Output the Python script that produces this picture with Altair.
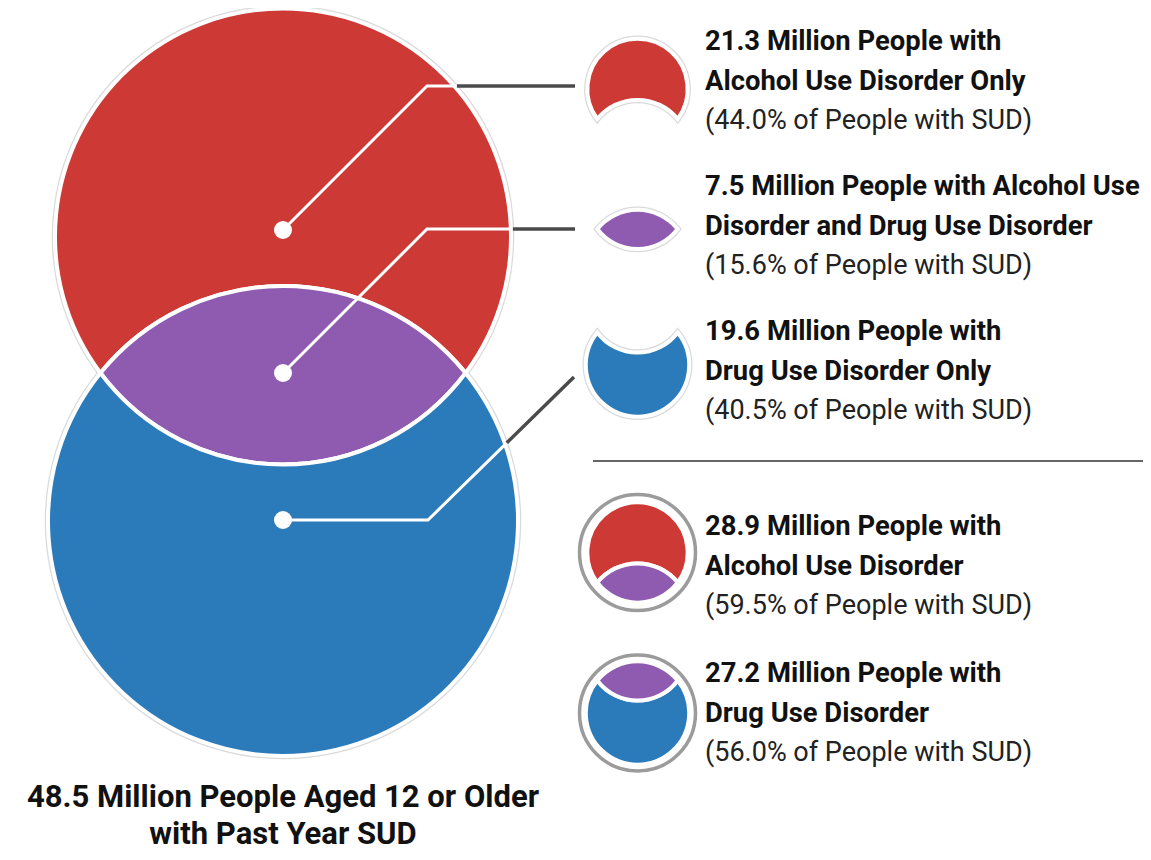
import math
import altair as alt
import pandas as pd

# ---------------- data ----------------
total_millions = 48.5
total_lines = ["Million People Aged 12 or Older", "with Past Year SUD"]
group_millions = [21.3, 7.5, 19.6, 28.9, 27.2]
group_pcts = [44.0, 15.6, 40.5, 59.5, 56.0]
group_head1 = ["Million People with", "Million People with Alcohol Use",
               "Million People with", "Million People with", "Million People with"]
group_head2 = ["Alcohol Use Disorder Only", "Disorder and Drug Use Disorder",
               "Drug Use Disorder Only", "Alcohol Use Disorder", "Drug Use Disorder"]

# ---------------- style / layout ----------------
RED, PURPLE, BLUE = "#CD3935", "#8E5BB1", "#2B7BBB"
FONT = "Roboto"
W, H = 1135, 844
xs = alt.Scale(domain=[8, 8 + W], range=[0, W], nice=False, zero=False)
ys = alt.Scale(domain=[8, 8 + H], range=[0, H], nice=False, zero=False)

# venn geometry (pixels): red circle radius, blue circle radius, centre distance
R1, R2, D = 228.0, 235.0, 284.5
A = (D * D + R1 * R1 - R2 * R2) / (2 * D)
HH = math.sqrt(R1 * R1 - A * A)


def f(v):
    return f"{v:.2f}"


def region_path(kind, k):
    r1, r2, a, h = R1 * k, R2 * k, A * k, HH * k
    if kind == "red":
        return f"M{f(-h)},{f(a)}A{f(r1)},{f(r1)} 0 1 1 {f(h)},{f(a)}A{f(r2)},{f(r2)} 0 0 0 {f(-h)},{f(a)}Z"
    if kind == "lens":
        return f"M{f(-h)},{f(a)}A{f(r2)},{f(r2)} 0 0 1 {f(h)},{f(a)}A{f(r1)},{f(r1)} 0 0 1 {f(-h)},{f(a)}Z"
    return f"M{f(-h)},{f(a)}A{f(r2)},{f(r2)} 0 1 0 {f(h)},{f(a)}A{f(r1)},{f(r1)} 0 0 1 {f(-h)},{f(a)}Z"


COLORS = {"red": RED, "lens": PURPLE, "blue": BLUE}
K_ICON = 0.22
ICON_X = 637.5
# (x of red-circle centre, y of red-circle centre, scale, regions, halo?)
venns = [
    (283.0, 236.5, 1.0, ["red", "lens", "blue"], True),
    (ICON_X, 89.0, K_ICON, ["red"], True),
    (ICON_X, 229.0 - A * K_ICON, K_ICON, ["lens"], True),
    (ICON_X, 365.0 - D * K_ICON, K_ICON, ["blue"], True),
    (ICON_X, 552.5, K_ICON, ["red", "lens"], False),
    (ICON_X, 713.0 - D * K_ICON, K_ICON, ["blue", "lens"], False),
]
rows = []
for cx, cy, k, regs, halo in venns:
    for r in regs:
        rows.append({"x": cx, "y": cy, "path": region_path(r, k), "fill": COLORS[r], "halo": halo})
shapes = pd.DataFrame(rows)

rings = pd.DataFrame({"x": [ICON_X, ICON_X], "y": [552.5, 713.0]})
RING_R = 58.0

# connectors: dot -> knee -> end, leaving circle (centre, radius)
connectors = [
    ((283, 230), (427, 86), (575, 86), (283, 236.5), R1 + 2),
    ((283, 373), (427, 229), (575, 229), (283, 236.5), R1 + 2),
    ((283, 520), (428, 520), (574, 377), (283, 521.0), R2 + 2),
]


def exit_point(p, q, c, r):
    dx, dy = q[0] - p[0], q[1] - p[1]
    fx, fy = p[0] - c[0], p[1] - c[1]
    a = dx * dx + dy * dy
    b = 2 * (fx * dx + fy * dy)
    cc = fx * fx + fy * fy - r * r
    t = (-b + math.sqrt(b * b - 4 * a * cc)) / (2 * a)
    return (p[0] + t * dx, p[1] + t * dy)


white_rows, gray_rows, dot_rows = [], [], []
for i, (dot, knee, end, c, r) in enumerate(connectors):
    ex = exit_point(knee, end, c, r)
    for j, pt in enumerate([dot, knee, ex]):
        white_rows.append({"seg": i, "i": j, "x": pt[0], "y": pt[1]})
    for j, pt in enumerate([ex, end]):
        gray_rows.append({"seg": i, "i": j, "x": pt[0], "y": pt[1]})
    dot_rows.append({"x": dot[0], "y": dot[1]})
white_df = pd.DataFrame(white_rows)
gray_df = pd.DataFrame(gray_rows)
dots_df = pd.DataFrame(dot_rows)

sep_df = pd.DataFrame({"x": [593], "x2": [1143], "y": [461]})

# labels
TEXT_X = 705
block_base = [50, 195, 340, 535, 682]
LINE = 39.5
bold_rows, reg_rows = [], []
for m, h1, h2, p, b in zip(group_millions, group_head1, group_head2, group_pcts, block_base):
    bold_rows.append({"x": TEXT_X, "y": b, "t": f"{m} {h1}"})
    bold_rows.append({"x": TEXT_X, "y": b + LINE, "t": h2})
    reg_rows.append({"x": TEXT_X, "y": b + 2 * LINE, "t": f"({p:.1f}% of People with SUD)"})
bold_df = pd.DataFrame(bold_rows)
reg_df = pd.DataFrame(reg_rows)
title_df = pd.DataFrame({"x": [283, 283], "y": [807, 844],
                         "t": [f"{total_millions} {total_lines[0]}", total_lines[1]]})


def X(field="x"):
    return alt.X(f"{field}:Q", scale=xs, axis=None)


def Y(field="y"):
    return alt.Y(f"{field}:Q", scale=ys, axis=None)


halo = alt.Chart(shapes[shapes["halo"]]).mark_point(
    filled=False, stroke="#dadada", strokeWidth=6.5, opacity=1, size=4
).encode(x=X(), y=Y(), shape=alt.Shape("path:N", scale=None))

fills = alt.Chart(shapes).mark_point(
    filled=True, stroke="white", strokeWidth=4, opacity=1, size=4
).encode(x=X(), y=Y(), shape=alt.Shape("path:N", scale=None),
         color=alt.Color("fill:N", scale=None))

ring = alt.Chart(rings).mark_point(
    shape="circle", filled=False, stroke="#9b9b9b", strokeWidth=3.5, opacity=1,
    size=(2 * RING_R) ** 2
).encode(x=X(), y=Y())

white_lines = alt.Chart(white_df).mark_line(
    color="white", strokeWidth=3, strokeJoin="miter", strokeCap="butt"
).encode(x=X(), y=Y(), detail="seg:N", order="i:Q")

gray_lines = alt.Chart(gray_df).mark_line(
    color="#4a4a4a", strokeWidth=3.5, strokeCap="butt"
).encode(x=X(), y=Y(), detail="seg:N", order="i:Q")

dots = alt.Chart(dots_df).mark_point(
    shape="circle", filled=True, color="white", opacity=1, size=324, strokeWidth=0
).encode(x=X(), y=Y())

sep = alt.Chart(sep_df).mark_rule(color="#666666", strokeWidth=2).encode(
    x=X(), x2="x2:Q", y=Y())

bold_text = alt.Chart(bold_df).mark_text(
    align="left", baseline="alphabetic", font=FONT, fontSize=27.4, fontWeight="bold",
    color="#111111"
).encode(x=X(), y=Y(), text="t:N")

reg_text = alt.Chart(reg_df).mark_text(
    align="left", baseline="alphabetic", font=FONT, fontSize=27, fontWeight="normal",
    color="#222222"
).encode(x=X(), y=Y(), text="t:N")

title_text = alt.Chart(title_df).mark_text(
    align="center", baseline="alphabetic", font=FONT, fontSize=31, fontWeight="bold",
    color="#111111"
).encode(x=X(), y=Y(), text="t:N")

chart = alt.layer(
    halo, fills, ring, white_lines, dots, gray_lines, sep, bold_text, reg_text, title_text
).properties(width=W, height=H, padding=0, autosize="none").configure_view(strokeWidth=0)

chart.save("out.html", embed_options={"renderer": "svg", "actions": False})
